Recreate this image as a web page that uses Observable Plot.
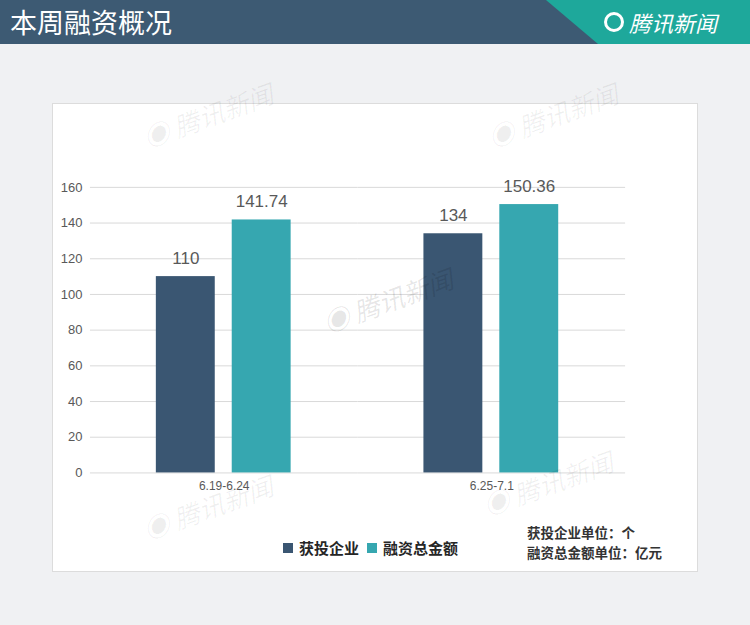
<!DOCTYPE html>
<html>
<head>
<meta charset="utf-8">
<script src="https://cdn.jsdelivr.net/npm/d3@7"></script>
<script src="https://cdn.jsdelivr.net/npm/@observablehq/plot@0.6"></script>
<style>
  html, body { margin: 0; padding: 0; }
  body { width: 750px; height: 625px; background: #f0f1f3; position: relative; overflow: hidden;
         font-family: "Noto Sans CJK SC", "Noto Sans", sans-serif; }
  #header { position: absolute; left: 0; top: 0; width: 750px; height: 44px; background: #3d5a73; }
  #header .teal { position: absolute; left: 0; top: 0; width: 750px; height: 44px; background: #1ea89b;
                  clip-path: polygon(546px 0, 750px 0, 750px 44px, 598px 44px); }
  #title { position: absolute; left: 10px; top: 0; height: 44px; line-height: 44px; color: #fff; font-size: 27px; }
  #logo { position: absolute; left: 604px; top: 0; height: 44px; line-height: 44px; color: #fff; font-size: 22px;
          font-style: italic; display: flex; align-items: center; gap: 5px; }
  #logo .ic { width: 20px; height: 20px; border-radius: 50%; border: 3px solid #fff; box-sizing: border-box; }
  #panel { position: absolute; left: 52px; top: 103px; width: 646px; height: 469px; background: #fff;
           border: 1px solid #dcdcdc; box-sizing: border-box; }
  #chart { position: absolute; left: -1px; top: -1px; }
  .wm { position: absolute; color: rgba(0,0,0,0.06); font-size: 26px; font-style: italic; transform: rotate(-20deg);
        white-space: nowrap; pointer-events: none; line-height: 30px; }
  #legend { position: absolute; left: 283px; top: 537px; display: flex; align-items: center; font-size: 15px;
            font-weight: bold; color: #262626; }
  #legend .sw { width: 10px; height: 10px; display: inline-block; margin-right: 6px; }
  #legend .item { display: flex; align-items: center; margin-right: 8px; }
  #units { position: absolute; left: 527px; top: 522px; font-size: 13.5px; font-weight: bold; color: #333; line-height: 20px; }
</style>
</head>
<body>
<div id="header"><div class="teal"></div></div>
<div id="title">本周融资概况</div>
<div id="logo"><span class="ic"></span><span>腾讯新闻</span></div>
<div id="panel"><div id="chart"></div></div>
<div class="wm" style="left:140px;top:100px;">◉ 腾讯新闻</div>
<div class="wm" style="left:485px;top:100px;">◉ 腾讯新闻</div>
<div class="wm" style="left:320px;top:285px;color:rgba(0,0,0,0.10);">◉ 腾讯新闻</div>
<div class="wm" style="left:140px;top:492px;">◉ 腾讯新闻</div>
<div class="wm" style="left:480px;top:468px;">◉ 腾讯新闻</div>
<div id="legend"></div>
<div id="units"><div>获投企业单位：个</div><div>融资总金额单位：亿元</div></div>
<script>
const categories = ["6.19-6.24", "6.25-7.1"];
const series = ["获投企业", "融资总金额"];
const companies = [110, 134];
const amounts = [141.74, 150.36];
const yTicks = [0, 20, 40, 60, 80, 100, 120, 140, 160];
const colors = ["#3a5672", "#36a7b0"];

const rows = [];
categories.forEach((c, i) => {
  rows.push({category: c, series: series[0], value: companies[i]});
  rows.push({category: c, series: series[1], value: amounts[i]});
});

const chart = Plot.plot({
  width: 646,
  height: 400,
  marginLeft: 37,
  marginRight: 72,
  marginTop: 84,
  marginBottom: 30,
  style: {background: "transparent", fontFamily: "Liberation Sans, Arial, sans-serif", fontSize: "13px", color: "#595959"},
  fx: {domain: categories, padding: 0, label: null, axis: "bottom", tickSize: 0, tickPadding: 9},
  x: {domain: series, paddingInner: 0.221, paddingOuter: 0.854, axis: null},
  y: {domain: [0, 160], ticks: yTicks, tickSize: 0, tickPadding: 8, label: null, tickFormat: d => String(d)},
  color: {domain: series, range: colors},
  marks: [
    Plot.ruleY(yTicks, {stroke: "#d9d9d9"}),
    Plot.barY(rows, {fx: "category", x: "series", y: "value", fill: "series"}),
    Plot.text(rows, {fx: "category", x: "series", y: "value", text: d => String(d.value), dy: -18,
                     fontSize: 17, fill: "#595959"})
  ]
});
chart.querySelectorAll("g[aria-label='fx-axis tick label'] text, g[aria-label='fx-axis'] text").forEach(t => t.setAttribute("font-size", "12px"));
document.getElementById("chart").appendChild(chart);

const legend = document.getElementById("legend");
series.forEach((s, i) => {
  const item = document.createElement("div");
  item.className = "item";
  const sw = document.createElement("span");
  sw.className = "sw";
  sw.style.background = colors[i];
  const label = document.createElement("span");
  label.textContent = s;
  item.appendChild(sw);
  item.appendChild(label);
  legend.appendChild(item);
});
</script>
</body>
</html>
